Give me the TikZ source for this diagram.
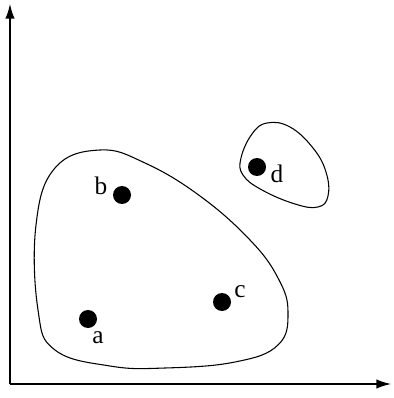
\documentclass[tikz,border=0pt]{standalone}
\usepackage{fontspec}
\setmainfont{Liberation Serif}
\usetikzlibrary{arrows.meta}
\begin{document}
\begin{tikzpicture}[x=0.75pt,y=-0.75pt,
  axis/.style={line width=1pt,-{Latex[length=11pt,width=7pt]}},
  blob/.style={line width=0.8pt},
  pt/.style={circle,fill=black,inner sep=0pt,minimum size=13.5pt},
  lbl/.style={font=\fontsize{19}{22}\selectfont,inner sep=0pt}]
\useasboundingbox (0,0) rectangle (393,398);
\coordinate (O) at (10,384);
\coordinate (Y) at (10,4);
\coordinate (X) at (391,384);
\draw[axis] (O) -- (Y);
\draw[axis] (O) -- (X);
\draw[blob] plot[smooth cycle,tension=0.7] coordinates {(100,150) (55,168) (36,225) (38,310) (55,350) (110,366) (165,368) (235,362) (278,345) (288,312) (278,278) (250,240) (200,196) (145,163)};
\draw[blob] plot[smooth cycle,tension=0.7] coordinates {(267,123) (290,127) (313,148) (326,172) (328,196) (318,207) (295,204) (262,190) (243,175) (241,158) (252,134)};
\node[pt] (a) at (88,319) {};
\node[pt] (b) at (122,195) {};
\node[pt] (c) at (222,302) {};
\node[pt] (d) at (257,167) {};
\node[lbl] (la) at (98,338) {a};
\node[lbl] (lb) at (101,186) {b};
\node[lbl] (lc) at (240,292) {c};
\node[lbl] (ld) at (277,174) {d};
\end{tikzpicture}
\end{document}
